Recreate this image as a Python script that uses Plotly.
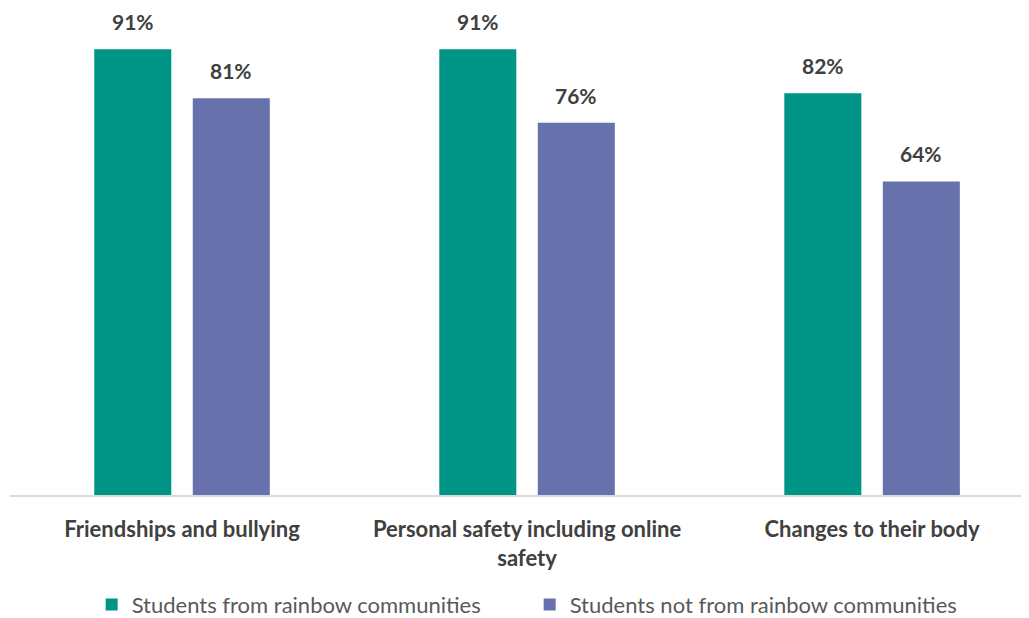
import plotly.graph_objects as go

categories = ["Friendships and bullying", "Personal safety including online<br>safety", "Changes to their body"]
rainbow = [91, 91, 82]
not_rainbow = [81, 76, 64]
series_names = ["Students from rainbow communities", "Students not from rainbow communities"]
colors = ["#009486", "#6772AD"]

FONT = "Lato, 'Open Sans', sans-serif"

fig = go.Figure()
for name, vals, col in zip(series_names, [rainbow, not_rainbow], colors):
    fig.add_trace(go.Bar(x=categories, y=vals, name=name, marker=dict(color=col, line=dict(width=0))))

annotations = []
for vals, shift in [(rainbow, -49.5), (not_rainbow, 49)]:
    for c, v in zip(categories, vals):
        annotations.append(dict(x=c, y=v, xref="x", yref="y", text=f"<b>{v}%</b>", showarrow=False,
                                xshift=shift, yshift=13, yanchor="bottom",
                                font=dict(family=FONT, size=21, color="#404040")))

# The page body adds an 8px offset; margins compensate for it.
fig.update_layout(
    width=1029, height=618,
    margin=dict(l=2, r=0, t=0, b=131, autoexpand=False),
    paper_bgcolor="white", plot_bgcolor="white",
    barmode="group", bargap=0.429, bargroupgap=0.218,
    showlegend=True,
    legend=dict(orientation="h", x=0.506, xanchor="center", y=-0.225, yanchor="middle",
                font=dict(family=FONT, size=22, color="#595959"), itemwidth=30,
                entrywidth=393, entrywidthmode="pixels",
                traceorder="normal"),
    annotations=annotations,
    xaxis=dict(range=[-0.4986, 2.478], showline=True, linecolor="#d9d9d9", linewidth=1.5,
               ticks="", ticklabelstandoff=14, automargin=False,
               tickfont=dict(family=FONT, size=22, color="#404040"),
               tickprefix="<b>", ticksuffix="</b>"),
    yaxis=dict(range=[0, 99.4], visible=False, showgrid=False, zeroline=False),
)

fig.write_html("out.html")
